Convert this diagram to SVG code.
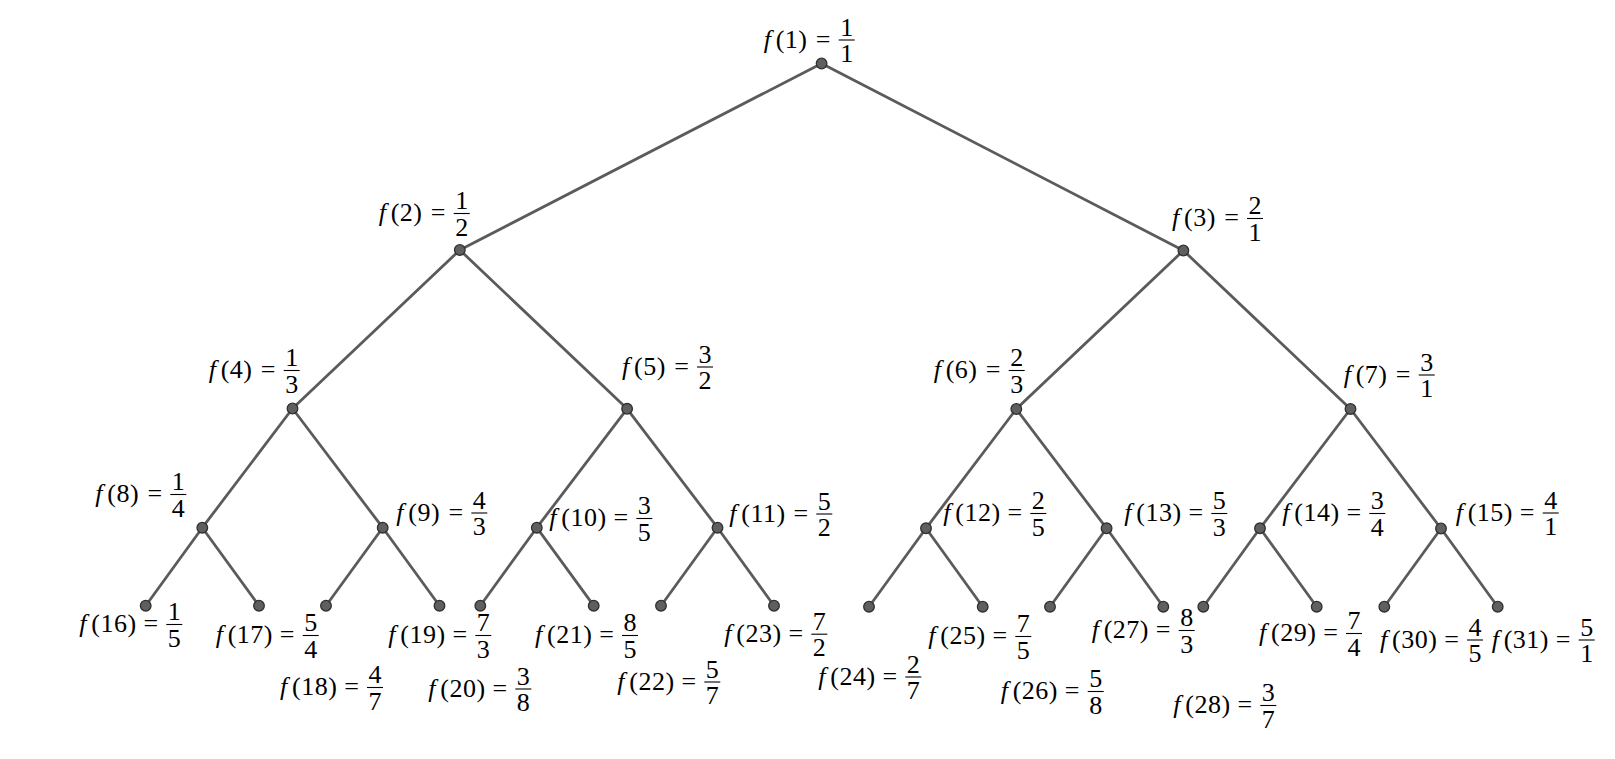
<svg xmlns="http://www.w3.org/2000/svg" width="1615" height="759" viewBox="0 0 1615 759">
<style>
.e{stroke:#5b5b5b;stroke-width:2.8;stroke-linecap:round}
.d{fill:#5f5f5f;stroke:#2f2f2f;stroke-width:1.3}
text{font-family:"Liberation Serif","Times New Roman",serif;font-size:26px;fill:#000}
.m{text-anchor:middle}
.i{font-style:italic}
.p{letter-spacing:0.5px}
.b{stroke:#000;stroke-width:1.1}
</style>
<rect width="1615" height="759" fill="#fff"/>
<g id="connectors">
<line class="e" x1="821.6" y1="63.5" x2="459.8" y2="250"/>
<line class="e" x1="821.6" y1="63.5" x2="1183.4" y2="250.5"/>
<line class="e" x1="459.8" y1="250" x2="292.5" y2="408.5"/>
<line class="e" x1="459.8" y1="250" x2="627.1" y2="408.8"/>
<line class="e" x1="1183.4" y1="250.5" x2="1016.3" y2="409"/>
<line class="e" x1="1183.4" y1="250.5" x2="1350.5" y2="409"/>
<line class="e" x1="292.5" y1="408.5" x2="202.3" y2="527.7"/>
<line class="e" x1="292.5" y1="408.5" x2="382.7" y2="527.7"/>
<line class="e" x1="627.1" y1="408.8" x2="536.8" y2="527.7"/>
<line class="e" x1="627.1" y1="408.8" x2="717.5" y2="527.7"/>
<line class="e" x1="1016.3" y1="409" x2="926" y2="528.3"/>
<line class="e" x1="1016.3" y1="409" x2="1106.6" y2="528.3"/>
<line class="e" x1="1350.5" y1="409" x2="1260" y2="528.3"/>
<line class="e" x1="1350.5" y1="409" x2="1441" y2="528.5"/>
<line class="e" x1="202.3" y1="527.7" x2="145.7" y2="605.7"/>
<line class="e" x1="202.3" y1="527.7" x2="259" y2="605.7"/>
<line class="e" x1="382.7" y1="527.7" x2="326" y2="605.7"/>
<line class="e" x1="382.7" y1="527.7" x2="439.5" y2="605.7"/>
<line class="e" x1="536.8" y1="527.7" x2="480.3" y2="605.7"/>
<line class="e" x1="536.8" y1="527.7" x2="593.7" y2="605.7"/>
<line class="e" x1="717.5" y1="527.7" x2="661" y2="605.7"/>
<line class="e" x1="717.5" y1="527.7" x2="774" y2="605.7"/>
<line class="e" x1="926" y1="528.3" x2="869" y2="606.7"/>
<line class="e" x1="926" y1="528.3" x2="982.7" y2="606.7"/>
<line class="e" x1="1106.6" y1="528.3" x2="1050" y2="606.7"/>
<line class="e" x1="1106.6" y1="528.3" x2="1163.3" y2="606.7"/>
<line class="e" x1="1260" y1="528.3" x2="1203.3" y2="606.7"/>
<line class="e" x1="1260" y1="528.3" x2="1316.7" y2="606.7"/>
<line class="e" x1="1441" y1="528.5" x2="1384.3" y2="606.7"/>
<line class="e" x1="1441" y1="528.5" x2="1497.7" y2="606.7"/>
</g>
<g id="n1"><circle class="d" cx="821.6" cy="63.5" r="5.3"/><g transform="translate(846.7,40)"><text y="7.5"><tspan class="i" x="-83">f</tspan><tspan class="p" x="-71">(1)</tspan></text><text class="m" x="-23.5" y="7.5">=</text><text class="m" y="-4.5">1</text><line class="b" x1="-8" x2="8"/><text class="m" y="22.1">1</text></g></g>
<g id="n2"><circle class="d" cx="459.8" cy="250" r="5.3"/><g transform="translate(461.7,213.5)"><text y="7.5"><tspan class="i" x="-83">f</tspan><tspan class="p" x="-71">(2)</tspan></text><text class="m" x="-23.5" y="7.5">=</text><text class="m" y="-4.5">1</text><line class="b" x1="-8" x2="8"/><text class="m" y="22.1">2</text></g></g>
<g id="n3"><circle class="d" cx="1183.4" cy="250.5" r="5.3"/><g transform="translate(1255,218.5)"><text y="7.5"><tspan class="i" x="-83">f</tspan><tspan class="p" x="-71">(3)</tspan></text><text class="m" x="-23.5" y="7.5">=</text><text class="m" y="-4.5">2</text><line class="b" x1="-8" x2="8"/><text class="m" y="22.1">1</text></g></g>
<g id="n4"><circle class="d" cx="292.5" cy="408.5" r="5.3"/><g transform="translate(291.7,370.5)"><text y="7.5"><tspan class="i" x="-83">f</tspan><tspan class="p" x="-71">(4)</tspan></text><text class="m" x="-23.5" y="7.5">=</text><text class="m" y="-4.5">1</text><line class="b" x1="-8" x2="8"/><text class="m" y="22.1">3</text></g></g>
<g id="n5"><circle class="d" cx="627.1" cy="408.8" r="5.3"/><g transform="translate(705,367)"><text y="7.5"><tspan class="i" x="-83">f</tspan><tspan class="p" x="-71">(5)</tspan></text><text class="m" x="-23.5" y="7.5">=</text><text class="m" y="-4.5">3</text><line class="b" x1="-8" x2="8"/><text class="m" y="22.1">2</text></g></g>
<g id="n6"><circle class="d" cx="1016.3" cy="409" r="5.3"/><g transform="translate(1016.7,370.5)"><text y="7.5"><tspan class="i" x="-83">f</tspan><tspan class="p" x="-71">(6)</tspan></text><text class="m" x="-23.5" y="7.5">=</text><text class="m" y="-4.5">2</text><line class="b" x1="-8" x2="8"/><text class="m" y="22.1">3</text></g></g>
<g id="n7"><circle class="d" cx="1350.5" cy="409" r="5.3"/><g transform="translate(1426.7,375)"><text y="7.5"><tspan class="i" x="-83">f</tspan><tspan class="p" x="-71">(7)</tspan></text><text class="m" x="-23.5" y="7.5">=</text><text class="m" y="-4.5">3</text><line class="b" x1="-8" x2="8"/><text class="m" y="22.1">1</text></g></g>
<g id="n8"><circle class="d" cx="202.3" cy="527.7" r="5.3"/><g transform="translate(178.3,494.5)"><text y="7.5"><tspan class="i" x="-83">f</tspan><tspan class="p" x="-71">(8)</tspan></text><text class="m" x="-23.5" y="7.5">=</text><text class="m" y="-4.5">1</text><line class="b" x1="-8" x2="8"/><text class="m" y="22.1">4</text></g></g>
<g id="n9"><circle class="d" cx="382.7" cy="527.7" r="5.3"/><g transform="translate(479.3,513)"><text y="7.5"><tspan class="i" x="-83">f</tspan><tspan class="p" x="-71">(9)</tspan></text><text class="m" x="-23.5" y="7.5">=</text><text class="m" y="-4.5">4</text><line class="b" x1="-8" x2="8"/><text class="m" y="22.1">3</text></g></g>
<g id="n10"><circle class="d" cx="536.8" cy="527.7" r="5.3"/><g transform="translate(644.3,518.5)"><text y="7.5"><tspan class="i" x="-95">f</tspan><tspan class="p" x="-83">(10)</tspan></text><text class="m" x="-23.5" y="7.5">=</text><text class="m" y="-4.5">3</text><line class="b" x1="-8" x2="8"/><text class="m" y="22.1">5</text></g></g>
<g id="n11"><circle class="d" cx="717.5" cy="527.7" r="5.3"/><g transform="translate(824.3,514)"><text y="7.5"><tspan class="i" x="-95">f</tspan><tspan class="p" x="-83">(11)</tspan></text><text class="m" x="-23.5" y="7.5">=</text><text class="m" y="-4.5">5</text><line class="b" x1="-8" x2="8"/><text class="m" y="22.1">2</text></g></g>
<g id="n12"><circle class="d" cx="926" cy="528.3" r="5.3"/><g transform="translate(1038.3,513.5)"><text y="7.5"><tspan class="i" x="-95">f</tspan><tspan class="p" x="-83">(12)</tspan></text><text class="m" x="-23.5" y="7.5">=</text><text class="m" y="-4.5">2</text><line class="b" x1="-8" x2="8"/><text class="m" y="22.1">5</text></g></g>
<g id="n13"><circle class="d" cx="1106.6" cy="528.3" r="5.3"/><g transform="translate(1219.3,513.5)"><text y="7.5"><tspan class="i" x="-95">f</tspan><tspan class="p" x="-83">(13)</tspan></text><text class="m" x="-23.5" y="7.5">=</text><text class="m" y="-4.5">5</text><line class="b" x1="-8" x2="8"/><text class="m" y="22.1">3</text></g></g>
<g id="n14"><circle class="d" cx="1260" cy="528.3" r="5.3"/><g transform="translate(1377.3,513.5)"><text y="7.5"><tspan class="i" x="-95">f</tspan><tspan class="p" x="-83">(14)</tspan></text><text class="m" x="-23.5" y="7.5">=</text><text class="m" y="-4.5">3</text><line class="b" x1="-8" x2="8"/><text class="m" y="22.1">4</text></g></g>
<g id="n15"><circle class="d" cx="1441" cy="528.5" r="5.3"/><g transform="translate(1550.7,513)"><text y="7.5"><tspan class="i" x="-95">f</tspan><tspan class="p" x="-83">(15)</tspan></text><text class="m" x="-23.5" y="7.5">=</text><text class="m" y="-4.5">4</text><line class="b" x1="-8" x2="8"/><text class="m" y="22.1">1</text></g></g>
<g id="n16"><circle class="d" cx="145.7" cy="605.7" r="5.3"/><g transform="translate(174.3,624.5)"><text y="7.5"><tspan class="i" x="-95">f</tspan><tspan class="p" x="-83">(16)</tspan></text><text class="m" x="-23.5" y="7.5">=</text><text class="m" y="-4.5">1</text><line class="b" x1="-8" x2="8"/><text class="m" y="22.1">5</text></g></g>
<g id="n17"><circle class="d" cx="259" cy="605.7" r="5.3"/><g transform="translate(310.7,635.5)"><text y="7.5"><tspan class="i" x="-95">f</tspan><tspan class="p" x="-83">(17)</tspan></text><text class="m" x="-23.5" y="7.5">=</text><text class="m" y="-4.5">5</text><line class="b" x1="-8" x2="8"/><text class="m" y="22.1">4</text></g></g>
<g id="n18"><circle class="d" cx="326" cy="605.7" r="5.3"/><g transform="translate(375,687.5)"><text y="7.5"><tspan class="i" x="-95">f</tspan><tspan class="p" x="-83">(18)</tspan></text><text class="m" x="-23.5" y="7.5">=</text><text class="m" y="-4.5">4</text><line class="b" x1="-8" x2="8"/><text class="m" y="22.1">7</text></g></g>
<g id="n19"><circle class="d" cx="439.5" cy="605.7" r="5.3"/><g transform="translate(483.3,635.5)"><text y="7.5"><tspan class="i" x="-95">f</tspan><tspan class="p" x="-83">(19)</tspan></text><text class="m" x="-23.5" y="7.5">=</text><text class="m" y="-4.5">7</text><line class="b" x1="-8" x2="8"/><text class="m" y="22.1">3</text></g></g>
<g id="n20"><circle class="d" cx="480.3" cy="605.7" r="5.3"/><g transform="translate(523.3,689)"><text y="7.5"><tspan class="i" x="-95">f</tspan><tspan class="p" x="-83">(20)</tspan></text><text class="m" x="-23.5" y="7.5">=</text><text class="m" y="-4.5">3</text><line class="b" x1="-8" x2="8"/><text class="m" y="22.1">8</text></g></g>
<g id="n21"><circle class="d" cx="593.7" cy="605.7" r="5.3"/><g transform="translate(630,635.5)"><text y="7.5"><tspan class="i" x="-95">f</tspan><tspan class="p" x="-83">(21)</tspan></text><text class="m" x="-23.5" y="7.5">=</text><text class="m" y="-4.5">8</text><line class="b" x1="-8" x2="8"/><text class="m" y="22.1">5</text></g></g>
<g id="n22"><circle class="d" cx="661" cy="605.7" r="5.3"/><g transform="translate(712.3,682)"><text y="7.5"><tspan class="i" x="-95">f</tspan><tspan class="p" x="-83">(22)</tspan></text><text class="m" x="-23.5" y="7.5">=</text><text class="m" y="-4.5">5</text><line class="b" x1="-8" x2="8"/><text class="m" y="22.1">7</text></g></g>
<g id="n23"><circle class="d" cx="774" cy="605.7" r="5.3"/><g transform="translate(819.3,634.2)"><text y="7.5"><tspan class="i" x="-95">f</tspan><tspan class="p" x="-83">(23)</tspan></text><text class="m" x="-23.5" y="7.5">=</text><text class="m" y="-4.5">7</text><line class="b" x1="-8" x2="8"/><text class="m" y="22.1">2</text></g></g>
<g id="n24"><circle class="d" cx="869" cy="606.7" r="5.3"/><g transform="translate(913.3,677)"><text y="7.5"><tspan class="i" x="-95">f</tspan><tspan class="p" x="-83">(24)</tspan></text><text class="m" x="-23.5" y="7.5">=</text><text class="m" y="-4.5">2</text><line class="b" x1="-8" x2="8"/><text class="m" y="22.1">7</text></g></g>
<g id="n25"><circle class="d" cx="982.7" cy="606.7" r="5.3"/><g transform="translate(1023.3,636.5)"><text y="7.5"><tspan class="i" x="-95">f</tspan><tspan class="p" x="-83">(25)</tspan></text><text class="m" x="-23.5" y="7.5">=</text><text class="m" y="-4.5">7</text><line class="b" x1="-8" x2="8"/><text class="m" y="22.1">5</text></g></g>
<g id="n26"><circle class="d" cx="1050" cy="606.7" r="5.3"/><g transform="translate(1095.7,691.5)"><text y="7.5"><tspan class="i" x="-95">f</tspan><tspan class="p" x="-83">(26)</tspan></text><text class="m" x="-23.5" y="7.5">=</text><text class="m" y="-4.5">5</text><line class="b" x1="-8" x2="8"/><text class="m" y="22.1">8</text></g></g>
<g id="n27"><circle class="d" cx="1163.3" cy="606.7" r="5.3"/><g transform="translate(1186.7,630.5)"><text y="7.5"><tspan class="i" x="-95">f</tspan><tspan class="p" x="-83">(27)</tspan></text><text class="m" x="-23.5" y="7.5">=</text><text class="m" y="-4.5">8</text><line class="b" x1="-8" x2="8"/><text class="m" y="22.1">3</text></g></g>
<g id="n28"><circle class="d" cx="1203.3" cy="606.7" r="5.3"/><g transform="translate(1268.3,705.5)"><text y="7.5"><tspan class="i" x="-95">f</tspan><tspan class="p" x="-83">(28)</tspan></text><text class="m" x="-23.5" y="7.5">=</text><text class="m" y="-4.5">3</text><line class="b" x1="-8" x2="8"/><text class="m" y="22.1">7</text></g></g>
<g id="n29"><circle class="d" cx="1316.7" cy="606.7" r="5.3"/><g transform="translate(1354,633.5)"><text y="7.5"><tspan class="i" x="-95">f</tspan><tspan class="p" x="-83">(29)</tspan></text><text class="m" x="-23.5" y="7.5">=</text><text class="m" y="-4.5">7</text><line class="b" x1="-8" x2="8"/><text class="m" y="22.1">4</text></g></g>
<g id="n30"><circle class="d" cx="1384.3" cy="606.7" r="5.3"/><g transform="translate(1475,640)"><text y="7.5"><tspan class="i" x="-95">f</tspan><tspan class="p" x="-83">(30)</tspan></text><text class="m" x="-23.5" y="7.5">=</text><text class="m" y="-4.5">4</text><line class="b" x1="-8" x2="8"/><text class="m" y="22.1">5</text></g></g>
<g id="n31"><circle class="d" cx="1497.7" cy="606.7" r="5.3"/><g transform="translate(1586.7,640)"><text y="7.5"><tspan class="i" x="-95">f</tspan><tspan class="p" x="-83">(31)</tspan></text><text class="m" x="-23.5" y="7.5">=</text><text class="m" y="-4.5">5</text><line class="b" x1="-8" x2="8"/><text class="m" y="22.1">1</text></g></g>
</svg>
